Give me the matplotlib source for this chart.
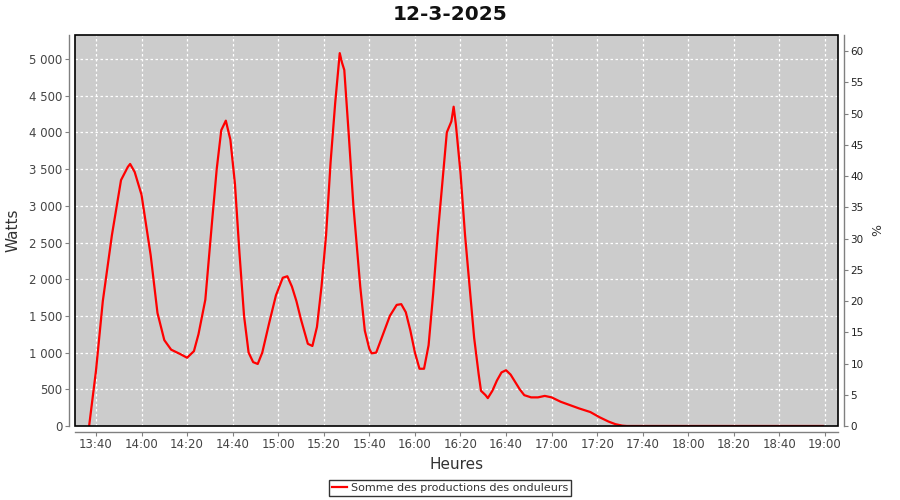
import matplotlib
matplotlib.use('Agg')
import matplotlib.pyplot as plt
from matplotlib.ticker import FuncFormatter, MultipleLocator
from matplotlib.patches import Rectangle

# Data (time of day, watts)
heures = ['13:37', '13:40', '13:43', '13:47', '13:51', '13:54', '13:55', '13:57',
          '14:00', '14:04', '14:07', '14:10', '14:13', '14:17', '14:20', '14:23',
          '14:25', '14:28', '14:31', '14:33', '14:35', '14:37', '14:39', '14:41',
          '14:43', '14:45', '14:47', '14:49', '14:51', '14:53', '14:56', '14:59',
          '15:02', '15:04', '15:06', '15:08', '15:10', '15:13', '15:15', '15:17',
          '15:19', '15:21', '15:23', '15:25', '15:27', '15:28', '15:29', '15:31',
          '15:33', '15:36', '15:38', '15:40', '15:41', '15:43', '15:46', '15:49',
          '15:52', '15:54', '15:56', '15:58', '16:00', '16:02', '16:04', '16:06',
          '16:08', '16:10', '16:12', '16:14', '16:16', '16:17', '16:18', '16:20',
          '16:22', '16:24', '16:26', '16:28', '16:29', '16:31', '16:32', '16:34',
          '16:36', '16:38', '16:40', '16:42', '16:44', '16:46', '16:48', '16:51',
          '16:54', '16:57', '17:00', '17:04', '17:08', '17:12', '17:17', '17:21',
          '17:25', '17:28', '17:31', '17:33', '18:59']
watts = [0, 750, 1700, 2600, 3350, 3530, 3570, 3460,
         3150, 2330, 1540, 1170, 1040, 980, 930, 1020,
         1250, 1720, 2800, 3500, 4030, 4160, 3900, 3300,
         2350, 1500, 1000, 870, 845, 1000, 1400, 1780,
         2020, 2040, 1900, 1700, 1450, 1120, 1090, 1350,
         1900, 2600, 3600, 4400, 5080, 4950, 4850, 3950,
         3000, 1900, 1300, 1050, 990, 1000, 1250, 1500,
         1650, 1660, 1550, 1300, 1000, 780, 780, 1100,
         1800, 2600, 3300, 4000, 4150, 4350, 4100, 3450,
         2600, 1900, 1200, 700, 480, 420, 380, 480,
         620, 730, 760, 700, 600, 500, 420, 390,
         390, 410, 390, 330, 285, 240, 190, 120,
         60, 25, 5, 0, 0]


def to_min(s):
    h, m = s.split(':')
    return int(h) * 60 + int(m)


t = [to_min(h) for h in heures]

fig = plt.figure(figsize=(9, 5), dpi=100)
ax = fig.add_axes([75 / 900, 1 - 426 / 500, (838 - 75) / 900, (426 - 35) / 500])
ax.set_facecolor('#cccccc')

ax.plot(t, watts, color='#ff0000', lw=1.6, label='Somme des productions des onduleurs', zorder=3)

ax.set_xlim(to_min('13:40') - 9.2, to_min('19:00') + 5.7)
ax.set_ylim(0, 5327)
ax.xaxis.set_major_locator(MultipleLocator(20))
ax.xaxis.set_major_formatter(FuncFormatter(lambda v, p: '%d:%02d' % (int(v) // 60, int(v) % 60)))
ax.yaxis.set_major_locator(MultipleLocator(500))
ax.yaxis.set_major_formatter(FuncFormatter(lambda v, p: '{:,}'.format(int(v)).replace(',', ' ')))

ax.grid(True, color='white', linestyle=(0, (2, 2)), linewidth=0.9)
ax.set_axisbelow(True)

ax2 = ax.twinx()
ax2.set_ylim(0, 62.6)
ax2.yaxis.set_major_locator(MultipleLocator(5))

for a in (ax, ax2):
    for side in ['top', 'left', 'right', 'bottom']:
        a.spines[side].set_visible(False)
    a.tick_params(colors='#444444', labelsize=8.5, length=3, width=0.8, pad=2)

ax.spines['left'].set_visible(True)
ax.spines['bottom'].set_visible(True)
ax2.spines['right'].set_visible(True)
for sp in (ax.spines['left'], ax.spines['bottom'], ax2.spines['right']):
    sp.set_position(('outward', 4))
    sp.set_color('#808080')
    sp.set_linewidth(1.0)
ax.tick_params(axis='both', color='#808080')
ax2.tick_params(axis='y', color='#808080', labelsize=7.5, colors='#222222')
ax2.tick_params(axis='y', color='#808080')

ax.add_patch(Rectangle((0, 0), 1, 1, transform=ax.transAxes, fill=False,
                       edgecolor='black', linewidth=1.2, zorder=5, clip_on=False))

ax.set_xlabel('Heures', fontsize=11, color='#333333', labelpad=4)
ax.set_ylabel('Watts', fontsize=11, color='#333333', labelpad=6)
ax2.set_ylabel('%', fontsize=9, color='#333333', rotation=-90, labelpad=12)

fig.text(0.5, 0.972, '12-3-2025', ha='center', va='center', fontsize=14.5,
         fontweight='bold', color='#111111')

leg = fig.legend(loc='center', bbox_to_anchor=(0.5, 0.024), fontsize=8, frameon=True,
                 fancybox=False, edgecolor='black', handlelength=1.4, handletextpad=0.3,
                 borderpad=0.3, borderaxespad=0.2, labelcolor='#333333')
leg.get_frame().set_linewidth(1.0)

fig.savefig('out.png', dpi=100)
